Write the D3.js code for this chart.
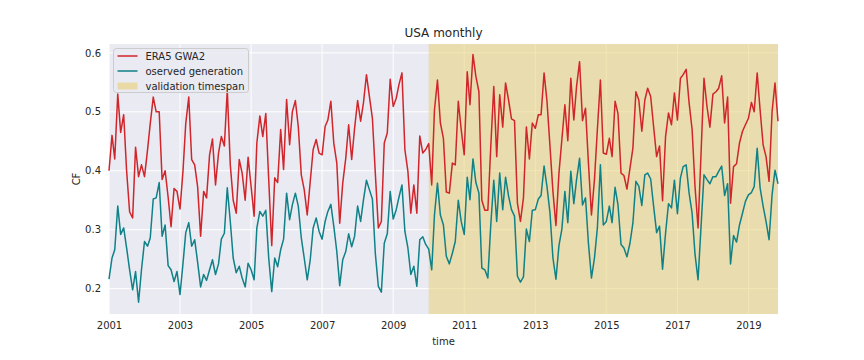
<!DOCTYPE html>
<html>
<head>
<meta charset="utf-8">
<script src="https://cdn.jsdelivr.net/npm/d3@7"></script>
<style>
  body { margin: 0; background: #fff; }
  text { font-family: "DejaVu Sans", sans-serif; fill: #262626; }
</style>
</head>
<body>
<div id="chart-area"></div>
<script>
const startMonth = new Date(2001, 0, 1)
const validationStart = new Date(2010, 0, 1)
const tickYears = [2001, 2003, 2005, 2007, 2009, 2011, 2013, 2015, 2017, 2019]
const yTicks = [0.2, 0.3, 0.4, 0.5, 0.6]

// ERA5 GWA2, monthly CF from Jan 2001
const era5 = [
  0.40, 0.46, 0.42, 0.53, 0.465, 0.495, 0.40, 0.33, 0.32, 0.44,
  0.39, 0.41, 0.39, 0.435, 0.48, 0.525, 0.50, 0.50, 0.385, 0.40,
  0.355, 0.305, 0.37, 0.365, 0.335, 0.40, 0.48, 0.525, 0.419, 0.41,
  0.373, 0.289, 0.365, 0.354, 0.427, 0.454, 0.376, 0.43, 0.458, 0.442,
  0.537, 0.41, 0.35, 0.328, 0.419, 0.396, 0.35, 0.423, 0.373, 0.323,
  0.447, 0.493, 0.458, 0.497, 0.385, 0.273, 0.388, 0.38, 0.47, 0.402,
  0.521, 0.444, 0.50, 0.519, 0.475, 0.393, 0.368, 0.325, 0.382, 0.436,
  0.453, 0.43, 0.427, 0.475, 0.486, 0.518, 0.447, 0.413, 0.311, 0.379,
  0.421, 0.478, 0.419, 0.472, 0.519, 0.484, 0.515, 0.563, 0.526, 0.489,
  0.396, 0.303, 0.314, 0.447, 0.464, 0.555, 0.509, 0.523, 0.546, 0.566,
  0.436, 0.399, 0.328, 0.376, 0.328, 0.459, 0.43, 0.436, 0.446, 0.376,
  0.503, 0.554, 0.481, 0.455, 0.364, 0.362, 0.413, 0.41, 0.518, 0.47,
  0.427, 0.568, 0.512, 0.597, 0.56, 0.534, 0.35, 0.333, 0.333, 0.441,
  0.543, 0.424, 0.529, 0.474, 0.549, 0.52, 0.488, 0.485, 0.345, 0.314,
  0.354, 0.474, 0.42, 0.481, 0.472, 0.495, 0.495, 0.566, 0.518, 0.441,
  0.365, 0.307, 0.396, 0.453, 0.512, 0.451, 0.557, 0.486, 0.543, 0.585,
  0.485, 0.506, 0.413, 0.325, 0.385, 0.47, 0.554, 0.43, 0.428, 0.455,
  0.424, 0.518, 0.497, 0.396, 0.392, 0.369, 0.404, 0.438, 0.534, 0.52,
  0.467, 0.52, 0.54, 0.526, 0.475, 0.424, 0.442, 0.349, 0.458, 0.498,
  0.478, 0.532, 0.486, 0.557, 0.563, 0.572, 0.515, 0.47, 0.373, 0.303,
  0.43, 0.557, 0.509, 0.474, 0.53, 0.534, 0.54, 0.561, 0.481, 0.525,
  0.345, 0.407, 0.412, 0.447, 0.467, 0.478, 0.489, 0.516, 0.50, 0.566,
  0.503, 0.444, 0.424, 0.382, 0.50, 0.549, 0.484
]

// observed generation, same months
const observed = [
  0.216, 0.252, 0.266, 0.34, 0.292, 0.303, 0.269, 0.232, 0.198, 0.229,
  0.177, 0.232, 0.28, 0.272, 0.286, 0.352, 0.354, 0.38, 0.289, 0.308,
  0.239, 0.232, 0.212, 0.229, 0.19, 0.243, 0.295, 0.312, 0.272, 0.283,
  0.245, 0.203, 0.224, 0.214, 0.232, 0.249, 0.224, 0.242, 0.284, 0.294,
  0.371, 0.314, 0.252, 0.227, 0.238, 0.218, 0.203, 0.243, 0.232, 0.215,
  0.303, 0.331, 0.323, 0.333, 0.252, 0.195, 0.252, 0.237, 0.266, 0.284,
  0.362, 0.317, 0.342, 0.362, 0.34, 0.286, 0.252, 0.215, 0.249, 0.303,
  0.32, 0.297, 0.284, 0.314, 0.331, 0.343, 0.306, 0.263, 0.205, 0.249,
  0.263, 0.293, 0.271, 0.289, 0.34, 0.314, 0.35, 0.384, 0.368, 0.352,
  0.26, 0.204, 0.194, 0.277, 0.293, 0.365, 0.318, 0.334, 0.355, 0.376,
  0.297, 0.269, 0.224, 0.238, 0.204, 0.283, 0.288, 0.275, 0.267, 0.232,
  0.325, 0.379, 0.325, 0.308, 0.255, 0.242, 0.26, 0.28, 0.35, 0.314,
  0.292, 0.389, 0.351, 0.42, 0.38, 0.362, 0.235, 0.232, 0.218, 0.308,
  0.384, 0.314, 0.396, 0.334, 0.389, 0.357, 0.334, 0.323, 0.221, 0.211,
  0.22, 0.301, 0.28, 0.333, 0.334, 0.352, 0.358, 0.408, 0.373, 0.328,
  0.252, 0.216, 0.273, 0.301, 0.365, 0.312, 0.399, 0.344, 0.385, 0.421,
  0.342, 0.354, 0.277, 0.218, 0.252, 0.303, 0.41, 0.308, 0.314, 0.34,
  0.312, 0.372, 0.342, 0.275, 0.269, 0.254, 0.277, 0.311, 0.382, 0.374,
  0.341, 0.393, 0.396, 0.386, 0.34, 0.295, 0.306, 0.233, 0.294, 0.344,
  0.337, 0.384, 0.327, 0.388, 0.407, 0.41, 0.362, 0.328, 0.258, 0.215,
  0.306, 0.393, 0.385, 0.378, 0.39, 0.39, 0.399, 0.408, 0.358, 0.378,
  0.242, 0.29, 0.279, 0.308, 0.328, 0.348, 0.359, 0.363, 0.373, 0.438,
  0.371, 0.34, 0.314, 0.283, 0.359, 0.401, 0.378
]

const margin = { left: 109, right: 86, top: 44, bottom: 46 }
const W = 864, H = 360
const width = W - margin.left - margin.right
const height = H - margin.top - margin.bottom

const months = era5.map((d, i) => d3.timeMonth.offset(startMonth, i))
const endMonth = months[months.length - 1]

const svg = d3.select('#chart-area').append('svg')
    .attr('width', W)
    .attr('height', H)

const g = svg.append('g')
    .attr('transform', `translate(${margin.left}, ${margin.top})`)

const xScale = d3.scaleTime()
    .domain([startMonth, endMonth])
    .range([0, width])

const yScale = d3.scaleLinear()
    .domain([0.157, 0.615])
    .range([height, 0])

// background
g.append('rect')
    .attr('width', width)
    .attr('height', height)
    .attr('fill', '#eaeaf2')

// grid
const xTickDates = tickYears.map(y => new Date(y, 0, 1))
g.append('g').selectAll('line.vx')
    .data(xTickDates)
    .enter().append('line')
    .attr('x1', d => xScale(d)).attr('x2', d => xScale(d))
    .attr('y1', 0).attr('y2', height)
    .attr('stroke', '#fff').attr('stroke-width', 1)

g.append('g').selectAll('line.hy')
    .data(yTicks)
    .enter().append('line')
    .attr('x1', 0).attr('x2', width)
    .attr('y1', d => yScale(d)).attr('y2', d => yScale(d))
    .attr('stroke', '#fff').attr('stroke-width', 1)

// validation span
g.append('rect')
    .attr('x', xScale(validationStart))
    .attr('y', 0)
    .attr('width', width - xScale(validationStart))
    .attr('height', height)
    .attr('fill', '#e8ce6a')
    .attr('fill-opacity', 0.5)

const line = d3.line()
    .x((d, i) => xScale(months[i]))
    .y(d => yScale(d))

g.append('path')
    .datum(era5)
    .attr('fill', 'none')
    .attr('stroke', '#d0252a')
    .attr('stroke-width', 1.5)
    .attr('stroke-linejoin', 'round')
    .attr('d', line)

g.append('path')
    .datum(observed)
    .attr('fill', 'none')
    .attr('stroke', '#0f8187')
    .attr('stroke-width', 1.5)
    .attr('stroke-linejoin', 'round')
    .attr('d', line)

// axes
const xAxisGroup = g.append('g')
    .attr('transform', `translate(0, ${height})`)
    .call(d3.axisBottom(xScale).tickValues(xTickDates).tickFormat(d3.timeFormat('%Y')).tickSize(0).tickPadding(8))
xAxisGroup.select('.domain').remove()
xAxisGroup.selectAll('text').attr('font-size', '10px').attr('fill', '#262626')
    .style('font-family', '"DejaVu Sans", sans-serif')

const yAxisGroup = g.append('g')
    .call(d3.axisLeft(yScale).tickValues(yTicks).tickFormat(d3.format('.1f')).tickSize(0).tickPadding(8))
yAxisGroup.select('.domain').remove()
yAxisGroup.selectAll('text').attr('font-size', '10px').attr('fill', '#262626')
    .style('font-family', '"DejaVu Sans", sans-serif')

// labels
svg.append('text')
    .attr('x', margin.left + width / 2)
    .attr('y', 37)
    .attr('text-anchor', 'middle')
    .attr('font-size', '12px')
    .text('USA monthly')

svg.append('text')
    .attr('x', margin.left + width / 2)
    .attr('y', 345)
    .attr('text-anchor', 'middle')
    .attr('font-size', '10px')
    .text('time')

svg.append('text')
    .attr('transform', `translate(80, ${margin.top + height / 2}) rotate(-90)`)
    .attr('text-anchor', 'middle')
    .attr('font-size', '10px')
    .text('CF')

// legend
const legend = g.append('g').attr('transform', 'translate(4.5, 4.5)')
legend.append('rect')
    .attr('width', 135)
    .attr('height', 44)
    .attr('rx', 3)
    .attr('fill', '#eaeaf2')
    .attr('fill-opacity', 0.8)
    .attr('stroke', '#cccccc')
    .attr('stroke-width', 1)

const legendItems = [
  { label: 'ERA5 GWA2', type: 'line', color: '#d0252a' },
  { label: 'oserved generation', type: 'line', color: '#0f8187' },
  { label: 'validation timespan', type: 'patch', color: '#e8d9a6' }
]

legendItems.forEach((item, i) => {
  const row = legend.append('g').attr('transform', `translate(0, ${7.5 + i * 15})`)
  if (item.type === 'line') {
    row.append('line')
        .attr('x1', 4).attr('x2', 24)
        .attr('y1', 0).attr('y2', 0)
        .attr('stroke', item.color)
        .attr('stroke-width', 1.5)
  } else {
    row.append('rect')
        .attr('x', 4).attr('y', -3.5)
        .attr('width', 20).attr('height', 7)
        .attr('fill', item.color)
  }
  row.append('text')
      .attr('x', 32)
      .attr('y', 0)
      .attr('dy', '0.35em')
      .attr('font-size', '10px')
      .text(item.label)
})
</script>
</body>
</html>
